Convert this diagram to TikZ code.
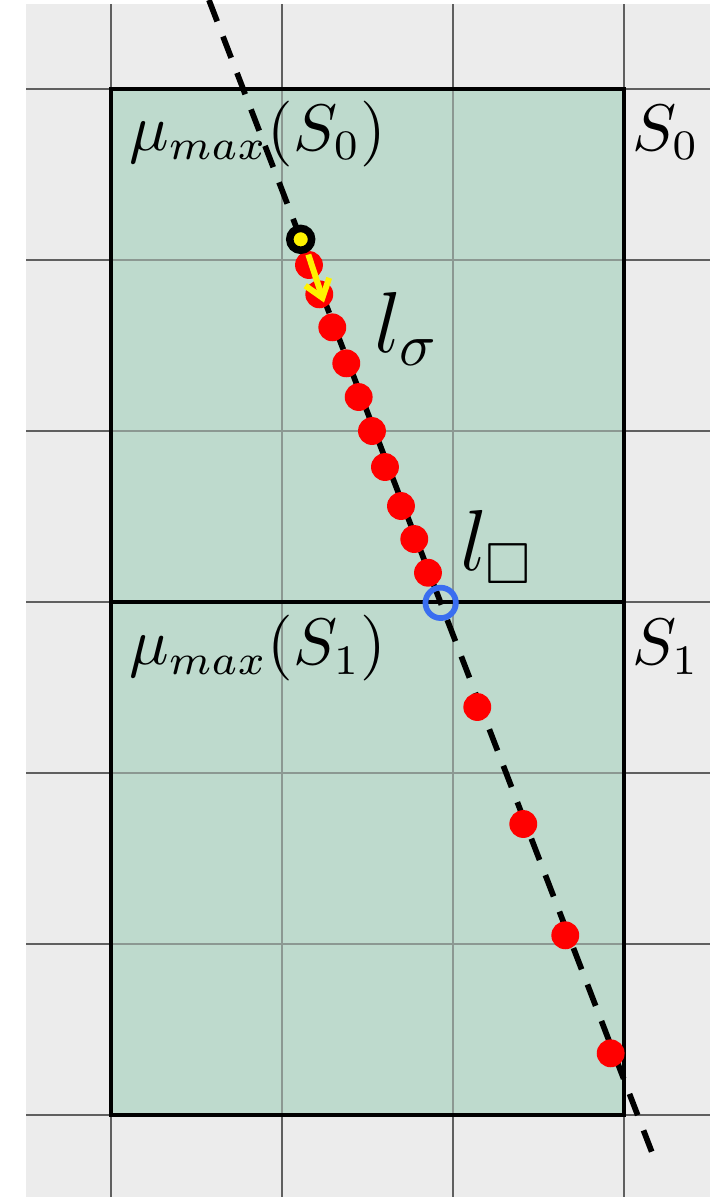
\documentclass[tikz,border=0pt]{standalone}
\usepackage{amssymb}
\usetikzlibrary{arrows.meta}
\definecolor{bggray}{RGB}{236,236,236}
\definecolor{cellgreen}{RGB}{190,218,205}
\definecolor{gridout}{RGB}{95,95,95}
\definecolor{gridin}{RGB}{140,152,146}
\definecolor{ringblue}{RGB}{58,110,240}
\begin{document}
\begin{tikzpicture}[x=1cm,y=1cm,
  reddot/.style={circle,fill=red,inner sep=0pt,minimum size=0.163cm},
  lbl/.style={inner sep=0pt,anchor=base west,font=\fontsize{10.7}{13}\selectfont},
  biglbl/.style={inner sep=0pt,anchor=base west,font=\fontsize{13.8}{16}\selectfont},
  outline/.style={line width=0.7pt,black},
  gridouter/.style={gridout,line width=0.35pt},
  gridinner/.style={gridin,line width=0.35pt},
  dashline/.style={line width=0.95pt,dash pattern=on 3.8pt off 2.7pt},
  ]
\useasboundingbox (-0.6491,-6.4795) rectangle (3.538,0.5205);
\clip (-0.6491,-6.4795) rectangle (3.538,0.5205);
% background
\fill[bggray] (-0.497,-6.6) rectangle (3.503,0.497);
\foreach \x in {0,1,2,3} \draw[gridouter] (\x,0.497) -- (\x,-6.6);
\foreach \y in {0,-1,-2,-3,-4,-5,-6} \draw[gridouter] (-0.497,\y) -- (3.503,\y);
% green cells
\fill[cellgreen] (0,0) rectangle (3,-6);
\foreach \x in {1,2} \draw[gridinner] (\x,0) -- (\x,-6);
\foreach \y in {-1,-2,-4,-5} \draw[gridinner] (0,\y) -- (3,\y);
\draw[outline] (0,0) rectangle (3,-3);
\draw[outline] (0,-3) rectangle (3,-6);
% dashed line
\coordinate (ltop) at (0.573,0.5205);
\coordinate (lbot) at (3.190,-6.287);
\draw[dashline] (ltop) -- (lbot);
% red dots
\foreach \i/\px/\py in {1/1.1579/-1.0292, 2/1.2181/-1.2006, 3/1.2942/-1.3936, 4/1.3760/-1.6041,
  5/1.4485/-1.8012, 6/1.5263/-2.0, 7/1.6023/-2.2105, 8/1.6959/-2.4386, 9/1.7737/-2.6316,
  10/1.8538/-2.8287, 11/2.1421/-3.6140, 12/2.4111/-4.2982, 13/2.6567/-4.9491, 14/2.9222/-5.6392}
  \node[reddot] (d\i) at (\px,\py) {};
% blue ring
\node[circle,draw=ringblue,line width=0.95pt,inner sep=0pt,minimum size=0.178cm] (ring) at (1.928,-3.005) {};
% yellow start point
\node[circle,draw=black,line width=1.25pt,fill=yellow,inner sep=0pt,minimum size=0.128cm] (start) at (1.1094,-0.8789) {};
% yellow arrow
\coordinate (a1) at (1.154,-0.968);
\coordinate (a2) at (1.2456,-1.2485);
\draw[yellow,line width=1pt,-{Straight Barb[length=2.8pt,width=4.2pt]}] (a1) -- (a2);
% labels
\node[lbl] (m0) at (0.0994,-0.357) {$\mu_{max}(S_0)$};
\node[lbl] (s0) at (3.040,-0.357) {$S_0$};
\node[lbl] (m1) at (0.0994,-3.368) {$\mu_{max}(S_1)$};
\node[lbl] (s1) at (3.040,-3.368) {$S_1$};
\node[biglbl] (ls) at (1.535,-1.538) {$l_\sigma$};
\node[biglbl] (lb) at (2.035,-2.813) {$l_\square$};
\end{tikzpicture}
\end{document}
